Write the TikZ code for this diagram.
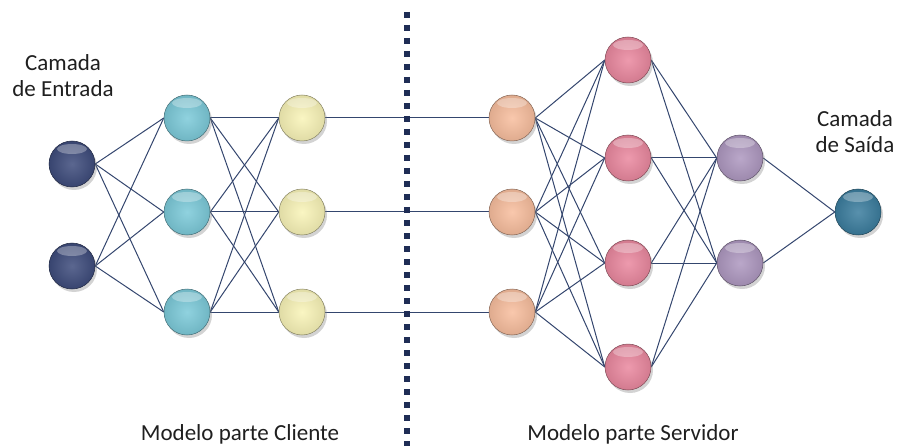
\documentclass[tikz,border=0pt]{standalone}
\usepackage{fontspec}
\setmainfont{Carlito}
\usetikzlibrary{shadows,backgrounds}
\definecolor{edgec}{HTML}{34466E}
\definecolor{dotc}{HTML}{1F2D55}
\definecolor{cin}{HTML}{3E4C7C}
\definecolor{ccy}{HTML}{7CCAD9}
\definecolor{cye}{HTML}{F9F4B8}
\definecolor{cor}{HTML}{F8BE9E}
\definecolor{cpk}{HTML}{EA889F}
\definecolor{cpu}{HTML}{AE98C0}
\definecolor{cout}{HTML}{3B7D9E}
\tikzset{
  neuron/.style={circle, minimum size=46pt, inner sep=0pt,
    draw=#1!55!black, line width=0.5pt,
    inner color=#1!85!white, outer color=#1!90!black,
    drop shadow={shadow xshift=2pt, shadow yshift=-3pt, opacity=0.35},
    path picture={\fill[white, opacity=0.3] ([yshift=-8pt]path picture bounding box.north) ellipse (15pt and 5pt);}},
  link/.style={draw=edgec, line width=1pt},
  lbl/.style={font=\fontsize{23}{26}\selectfont, text=black!88, align=center, inner sep=0pt}
}
\begin{document}
\begin{tikzpicture}[x=1pt,y=-1pt]
\useasboundingbox (0,0) rectangle (901,446);
% divider
\coordinate (dtop) at (407,12);
\coordinate (dbot) at (407,446);
\draw[dotc, line width=6pt, dash pattern=on 6pt off 7pt] (dtop) -- (dbot);
% nodes
\node[neuron=cin] (i1) at (72,164) {};
\node[neuron=cin] (i2) at (72,266) {};
\node[neuron=ccy] (a1) at (187,118) {};
\node[neuron=ccy] (a2) at (187,212) {};
\node[neuron=ccy] (a3) at (187,312) {};
\node[neuron=cye] (b1) at (302,118) {};
\node[neuron=cye] (b2) at (302,212) {};
\node[neuron=cye] (b3) at (302,312) {};
\node[neuron=cor] (c1) at (512,118) {};
\node[neuron=cor] (c2) at (512,212) {};
\node[neuron=cor] (c3) at (512,312) {};
\node[neuron=cpk] (d1) at (628,60) {};
\node[neuron=cpk] (d2) at (628,158) {};
\node[neuron=cpk] (d3) at (628,263) {};
\node[neuron=cpk] (d4) at (628,367) {};
\node[neuron=cpu] (e1) at (740,158) {};
\node[neuron=cpu] (e2) at (740,263) {};
\node[neuron=cout] (o) at (858,212) {};
% edges
\begin{scope}[on background layer]
\foreach \s in {i1,i2} \foreach \t in {a1,a2,a3} \draw[link] (\s.east) -- (\t.west);
\foreach \s in {a1,a2,a3} \foreach \t in {b1,b2,b3} \draw[link] (\s.east) -- (\t.west);
\draw[link] (b1.east) -- (c1.west);
\draw[link] (b2.east) -- (c2.west);
\draw[link] (b3.east) -- (c3.west);
\foreach \s in {c1,c2,c3} \foreach \t in {d1,d2,d3,d4} \draw[link] (\s.east) -- (\t.west);
\foreach \s in {d1,d2,d3,d4} \foreach \t in {e1,e2} \draw[link] (\s.east) -- (\t.west);
\foreach \s in {e1,e2} \draw[link] (\s.east) -- (o.west);
\end{scope}
% labels
\node[lbl, anchor=base] (tin) at (63,97) {Camada\\de Entrada};
\node[lbl, anchor=base] (tout) at (855,153) {Camada\\de Saída};
\node[lbl, anchor=base] (tcli) at (240,440) {Modelo parte Cliente};
\node[lbl, anchor=base] (tsrv) at (633,440) {Modelo parte Servidor};
\end{tikzpicture}
\end{document}
